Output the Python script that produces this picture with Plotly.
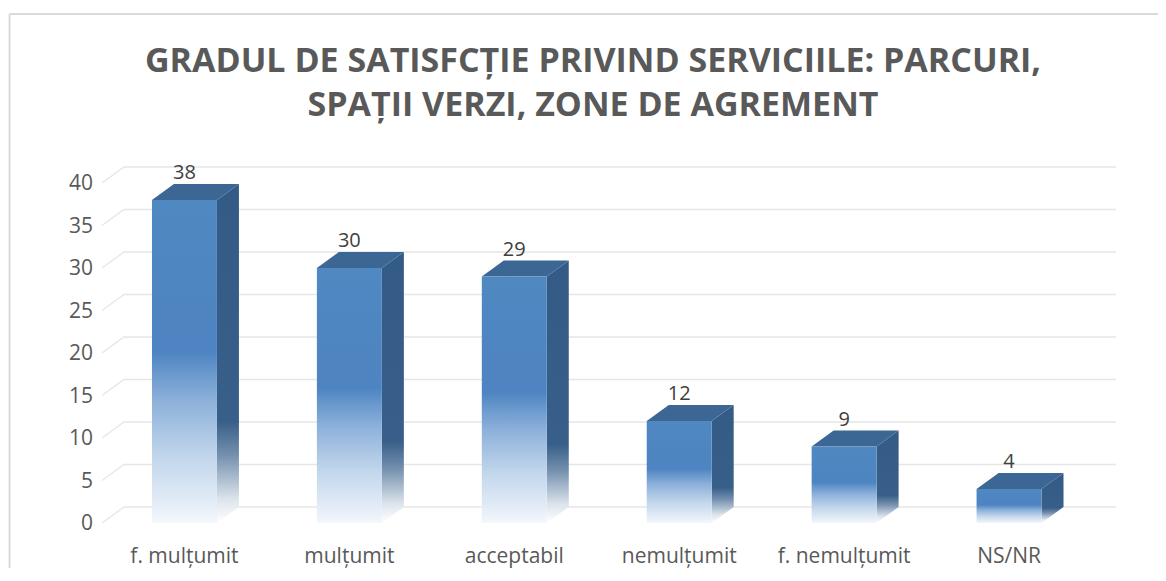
import plotly.graph_objects as go

categories = ["f. mulțumit", "mulțumit", "acceptabil", "nemulțumit", "f. nemulțumit", "NS/NR"]
values = [38, 30, 29, 12, 9, 4]
y_ticks = [0, 5, 10, 15, 20, 25, 30, 35, 40]
title_text = "GRADUL DE SATISFCȚIE PRIVIND SERVICIILE: PARCURI,<br>SPAȚII VERZI, ZONE DE AGREMENT"

# page body has an 8px margin, so the figure is sized to fit inside the window
W, H = 1150, 560
L, T = 93.5, 142
plot_right_px = 1108
plot_bottom_px = 527
R = W - plot_right_px
B = H - plot_bottom_px
px_per_x = 165.0
px_per_y = 8.5
y0_px = 515
plot_w = W - L - R
plot_h = H - T - B
x_range = [-0.5, -0.5 + plot_w / px_per_x]
y_range = [-(H - B - y0_px) / px_per_y, (y0_px - T) / px_per_y]

half = 0.197          # half of front face width (category units)
dx = 22 / px_per_x    # depth offset in x units
dy = 16 / px_per_y    # depth offset in y units

FRONT = [[0, "#f4f8fc"], [0.05, "#e6eef8"], [0.2, "#c3d7ec"], [0.38, "#8cb0da"],
         [0.48, "#6394ca"], [0.53, "#4d84c1"], [1, "#5088c2"]]
SIDE = [[0, "#ffffff"], [0.07, "#dde4ec"], [0.2, "#7490ae"], [0.3, "#385f89"],
        [1, "#335b86"]]
TOP_COLOR = "#3c6794"

fig = go.Figure()

# back-wall gridlines with the slanted side segments
gx, gy = [], []
left = x_range[0]
right_back = x_range[1]
for v in y_ticks:
    gx += [left, left + dx, right_back, None]
    gy += [v, v + dy, v + dy, None]
fig.add_trace(go.Scatter(x=gx, y=gy, mode="lines", line=dict(color="#e6e6e6", width=1.3),
                         hoverinfo="skip", showlegend=False))

for i, v in enumerate(values):
    x0, x1 = i - half, i + half
    # side face
    fig.add_trace(go.Scatter(
        x=[x1, x1 + dx, x1 + dx, x1, x1], y=[0, dy, v + dy, v, 0],
        mode="lines", line=dict(width=0), fill="toself",
        fillgradient=dict(type="vertical", colorscale=SIDE, start=0, stop=v + dy),
        hoverinfo="skip", showlegend=False))
    # top face
    fig.add_trace(go.Scatter(
        x=[x0, x0 + dx, x1 + dx, x1, x0], y=[v, v + dy, v + dy, v, v],
        mode="lines", line=dict(width=0), fill="toself", fillcolor=TOP_COLOR,
        hoverinfo="skip", showlegend=False))
    # front face
    fig.add_trace(go.Scatter(
        x=[x0, x1, x1, x0, x0], y=[0, 0, v, v, 0],
        mode="lines", line=dict(width=0), fill="toself",
        fillgradient=dict(type="vertical", colorscale=FRONT, start=0, stop=v),
        hoverinfo="skip", showlegend=False))

# data labels
fig.add_trace(go.Scatter(
    x=list(range(len(values))), y=[v + dy for v in values],
    mode="text", text=[str(v) for v in values], textposition="top center",
    textfont=dict(family="Open Sans, sans-serif", size=20, color="#404040"),
    hoverinfo="skip", showlegend=False, cliponaxis=False))


def px_to_paper_x(px):
    return (px - L) / plot_w


def px_to_paper_y(py):
    return (H - B - py) / plot_h


# chart frame (top and left edges visible in the window)
frame = dict(color="#d9d9d9", width=2)
fig.add_shape(type="line", xref="paper", yref="paper",
              x0=px_to_paper_x(1), x1=px_to_paper_x(W), y0=px_to_paper_y(6), y1=px_to_paper_y(6),
              line=frame, layer="below")
fig.add_shape(type="line", xref="paper", yref="paper",
              x0=px_to_paper_x(1), x1=px_to_paper_x(1), y0=px_to_paper_y(6), y1=px_to_paper_y(H),
              line=frame, layer="below")

fig.update_layout(
    width=W, height=H,
    margin=dict(l=L, r=R, t=T, b=B, autoexpand=False),
    paper_bgcolor="white", plot_bgcolor="white",
    title=dict(text=title_text, x=585 / W, xanchor="center", y=1 - 64 / H, yanchor="middle",
               font=dict(family="Open Sans, sans-serif", size=34,
                         color="#595959", weight="bold")),
    xaxis=dict(range=x_range, tickvals=list(range(len(categories))), ticktext=categories,
               showgrid=False, zeroline=False, showline=False, ticks="", ticklabelstandoff=6,
               automargin=False,
               tickfont=dict(family="Open Sans, sans-serif", size=21, color="#595959"),
               fixedrange=True),
    yaxis=dict(range=y_range, tickvals=y_ticks, showgrid=False, zeroline=False,
               showline=False, ticks="", ticklabelstandoff=8, automargin=False,
               tickfont=dict(family="Open Sans, sans-serif", size=21, color="#595959"),
               fixedrange=True),
    showlegend=False,
)

fig.write_html("out.html")
